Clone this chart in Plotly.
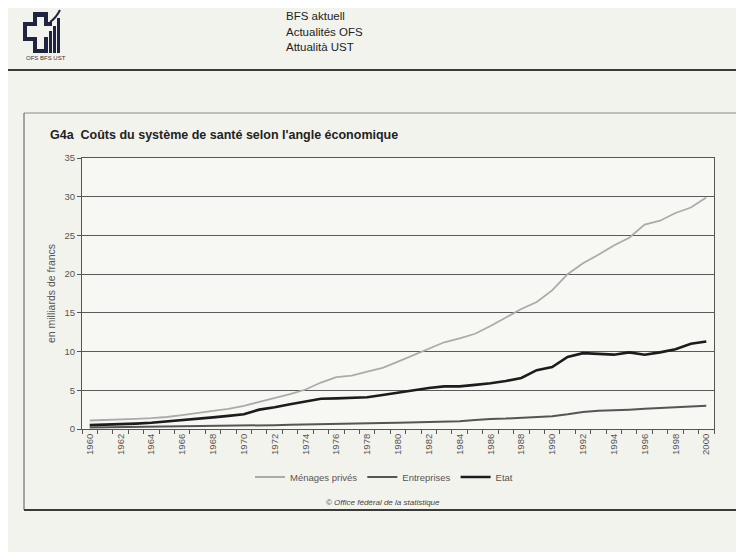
import plotly.graph_objects as go

years = list(range(1960, 2001))
menages = [1.1, 1.15, 1.2, 1.3, 1.4, 1.55, 1.8, 2.1, 2.35, 2.6, 3.0, 3.5, 4.0, 4.5, 5.1, 6.0,
           6.7, 6.9, 7.4, 7.9, 8.7, 9.5, 10.3, 11.2, 11.7, 12.3, 13.3, 14.4, 15.5, 16.4,
           17.9, 20.0, 21.4, 22.5, 23.7, 24.7, 26.4, 26.9, 27.9, 28.6, 29.9]
entreprises = [0.2, 0.22, 0.24, 0.26, 0.28, 0.3, 0.32, 0.34, 0.36, 0.38, 0.4, 0.45, 0.5, 0.55,
               0.6, 0.62, 0.65, 0.7, 0.75, 0.78, 0.8, 0.85, 0.9, 0.95, 1.0, 1.15, 1.3, 1.35,
               1.45, 1.55, 1.65, 1.9, 2.2, 2.35, 2.4, 2.5, 2.6, 2.7, 2.8, 2.9, 3.0]
etat = [0.5, 0.55, 0.6, 0.7, 0.8, 0.95, 1.1, 1.3, 1.5, 1.7, 1.9, 2.5, 2.8, 3.2, 3.6, 3.9,
        3.95, 4.0, 4.1, 4.4, 4.7, 5.0, 5.3, 5.5, 5.5, 5.7, 5.9, 6.2, 6.6, 7.6, 8.0, 9.3,
        9.8, 9.7, 9.6, 9.9, 9.6, 9.9, 10.3, 11.0, 11.3]
series_names = ["Ménages privés", "Entreprises", "Etat"]
y_ticks = [0, 5, 10, 15, 20, 25, 30, 35]
x_labels = [y for y in years if y % 2 == 0]

OFF = 8  # page body margin in the browser
W, H = 744 - OFF, 552 - OFF
# plot area in reference-page pixels
RL, RR, RT, RB = 82, 714, 158, 429
L, R, T, B = RL - OFF, RR - OFF, RT - OFF, RB - OFF

def px(x):
    return (x - RL) / (RR - RL)

def py(y):
    return (RB - y) / (RB - RT)

fig = go.Figure()
colors = ["#ababa9", "#555555", "#1c1c1c"]
widths = [1.8, 2, 2.6]
for name, vals, c, w in zip(series_names, [menages, entreprises, etat], colors, widths):
    fig.add_trace(go.Scatter(x=years, y=vals, mode="lines", name=name,
                             line=dict(color=c, width=w)))

font_main = "Liberation Sans, Arial, sans-serif"
fig.update_layout(
    width=W, height=H,
    margin=dict(l=L, r=W - R, t=T, b=H - B),
    paper_bgcolor="#f3f3ee",
    plot_bgcolor="#f7f7f3",
    font=dict(family=font_main, size=9, color="#444444"),
    showlegend=True,
    legend=dict(orientation="h", x=px(384), xanchor="center", y=py(477), yanchor="middle",
                font=dict(size=9.5, color="#555555"), bgcolor="rgba(0,0,0,0)",
                itemwidth=30, tracegroupgap=0),
    xaxis=dict(range=[1959.5, 2000.5], tickvals=x_labels, ticktext=[str(v) for v in x_labels],
               tickangle=-90, ticks="", showgrid=False, showline=True, linecolor="#555555",
               linewidth=1, mirror=True, zeroline=False,
               tickfont=dict(size=9.5, color="#555555"),
               minor=dict(tick0=1959.5, dtick=1, ticks="outside", ticklen=4,
                          tickcolor="#555555", showgrid=False)),
    yaxis=dict(range=[0, 35], tickvals=y_ticks, ticks="outside", ticklen=4, tickcolor="#555555",
               showgrid=True, gridcolor="#5a5a5a", gridwidth=1, showline=True,
               linecolor="#555555", linewidth=1, mirror=True, zeroline=False,
               tickfont=dict(size=9.5, color="#555555"),
               title=dict(text="en milliards de francs", font=dict(size=10.5, color="#555555"),
                          standoff=6)),
)

shapes = []
# header rule
shapes.append(dict(type="line", xref="paper", yref="paper", x0=px(0), x1=px(760), y0=py(70), y1=py(70),
                   line=dict(color="#3a3a3a", width=2)))
# chart frame
shapes.append(dict(type="line", xref="paper", yref="paper", x0=px(24), x1=px(760), y0=py(113), y1=py(113),
                   line=dict(color="#8a8a8a", width=1)))
shapes.append(dict(type="line", xref="paper", yref="paper", x0=px(24), x1=px(24), y0=py(113), y1=py(510),
                   line=dict(color="#555555", width=1)))
shapes.append(dict(type="line", xref="paper", yref="paper", x0=px(24), x1=px(760), y0=py(510), y1=py(510),
                   line=dict(color="#3a3a3a", width=2)))

# logo (simplified)
navy = "#1f2540"
def rect(x0, y0, x1, y1):
    return dict(type="rect", xref="paper", yref="paper", x0=px(x0), x1=px(x1), y0=py(y1), y1=py(y0),
                fillcolor=navy, line=dict(width=0))
shapes += [
    rect(33, 12, 48, 17),
    rect(33, 12, 37, 26), rect(44, 12, 48, 26),
    rect(23, 22, 37, 26), rect(44, 22, 52, 26),
    rect(23, 22, 27, 41), rect(23, 37, 37, 41),
    rect(33, 37, 37, 53), rect(33, 49, 48, 53),
    rect(44, 37, 48, 53),
    rect(49, 31, 52, 53), rect(53, 26, 56, 53), rect(57, 18, 60, 53),
]
shapes.append(dict(type="path", xref="paper", yref="paper",
                   path=f"M {px(50)} {py(22)} Q {px(56)} {py(18)} {px(60)} {py(10)}",
                   line=dict(color=navy, width=2)))
fig.update_layout(shapes=shapes)

ann = []
ann.append(dict(text="OFS BFS UST", x=px(24), y=py(58), xref="paper", yref="paper", xanchor="left",
                yanchor="middle", showarrow=False, font=dict(size=6, color="#333333", family=font_main)))
for i, t in enumerate(["BFS aktuell", "Actualités OFS", "Attualità UST"]):
    ann.append(dict(text=t, x=px(284), y=py(16 + 15.5 * i), xref="paper", yref="paper", xanchor="left",
                    yanchor="middle", showarrow=False, font=dict(size=11.5, color="#222222", family=font_main)))
ann.append(dict(text="<b>G4a  Coûts du système de santé selon l'angle économique</b>", x=px(48), y=py(135),
                xref="paper", yref="paper", xanchor="left", yanchor="middle", showarrow=False,
                font=dict(size=12.5, color="#222222", family=font_main)))
ann.append(dict(text="<i>© Office fédéral de la statistique</i>", x=px(383), y=py(502), xref="paper",
                yref="paper", xanchor="center", yanchor="middle", showarrow=False,
                font=dict(size=8, color="#444444", family=font_main)))
fig.update_layout(annotations=ann)

fig.write_html("out.html")
